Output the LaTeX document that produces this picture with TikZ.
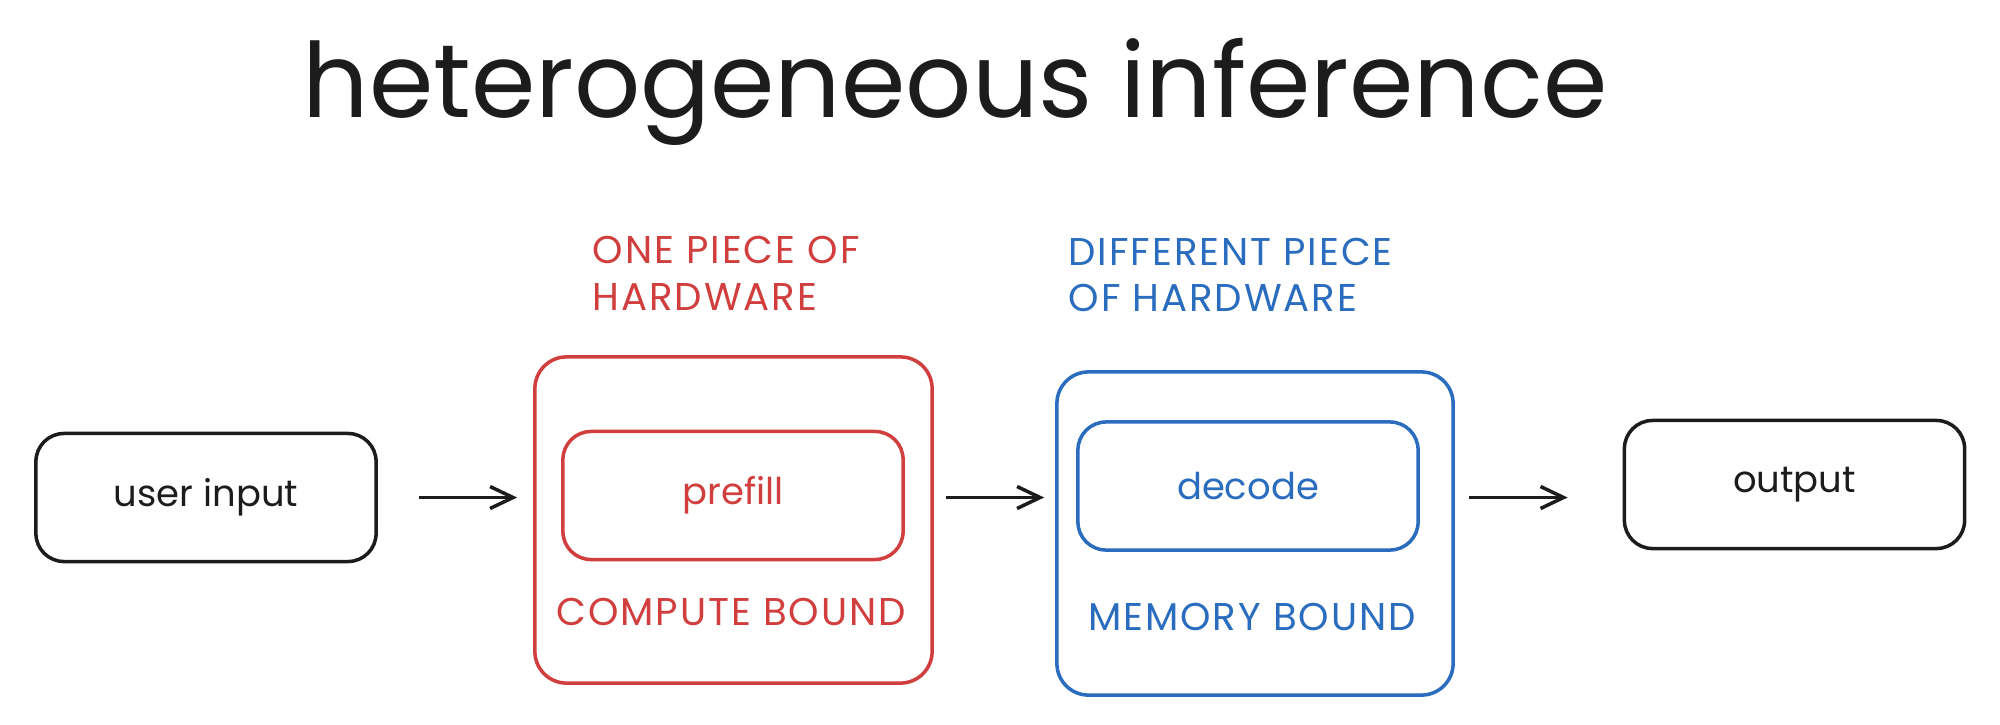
\documentclass[tikz,border=0pt]{standalone}
\usepackage{fontspec}
\setmainfont{Poppins}
\usepackage{xcolor}
\usepackage{tikz}
\usetikzlibrary{arrows.meta,positioning}
\definecolor{RojoHW}{RGB}{208,62,62}
\definecolor{AzulHW}{RGB}{42,108,190}
\definecolor{TrazoNegro}{RGB}{28,28,28}

\begin{document}
\begin{tikzpicture}[x=0.01cm,y=-0.01cm,>={Straight Barb[length=2.3mm,width=2.2mm]},
  caja/.style={draw,line width=1pt,rounded corners=8pt,minimum width=3.4cm,minimum height=1.28cm,inner sep=0pt,font=\fontsize{10.5}{12}\selectfont},
  marco/.style={draw,line width=1pt,rounded corners=9pt,inner sep=0pt},
  rotulo/.style={inner sep=0pt,font=\fontsize{11}{13}\selectfont\addfontfeatures{LetterSpace=5}},
  flecha/.style={->,line width=1pt,TrazoNegro}]
  \useasboundingbox (0,0) rectangle (2000,724);

  \node[anchor=base,inner sep=0pt,font=\fontsize{29.5}{34}\selectfont,TrazoNegro] (titulo) at (955,117) {heterogeneous inference};

  \node[caja,TrazoNegro] (user) at (206,497.5) {user input};
  \node[caja,TrazoNegro] (output) at (1794.5,484.5) {output};

  \node[marco,RojoHW,minimum width=3.97cm,minimum height=3.26cm] (hwA) at (733.5,520) {};
  \node[caja,RojoHW] (prefill) at (733,495.5) {prefill};
  \node[marco,AzulHW,minimum width=3.96cm,minimum height=3.23cm] (hwB) at (1255,533.5) {};
  \node[caja,AzulHW] (decode) at (1248,486) {decode};

  \node[rotulo,RojoHW,anchor=base west] (hwAa) at (592,263) {ONE PIECE OF};
  \node[rotulo,RojoHW,anchor=base west] (hwAb) at (592,310) {HARDWARE};
  \node[rotulo,AzulHW,anchor=base west] (hwBa) at (1068,265) {DIFFERENT PIECE};
  \node[rotulo,AzulHW,anchor=base west] (hwBb) at (1068,311) {OF HARDWARE};
  \node[rotulo,RojoHW,anchor=base] (compute) at (731,625) {COMPUTE BOUND};
  \node[rotulo,AzulHW,anchor=base] (memory) at (1252,630) {MEMORY BOUND};

  \draw[flecha,shorten <=0.41cm,shorten >=0.16cm] (user.east) -- (user.east -| hwA.west);
  \draw[flecha,shorten <=0.12cm,shorten >=0.11cm] (hwA.east |- user.east) -- (hwB.west |- user.east);
  \draw[flecha,shorten <=0.14cm,shorten >=0.55cm] (hwB.east |- user.east) -- (output.west |- user.east);
\end{tikzpicture}
\end{document}
